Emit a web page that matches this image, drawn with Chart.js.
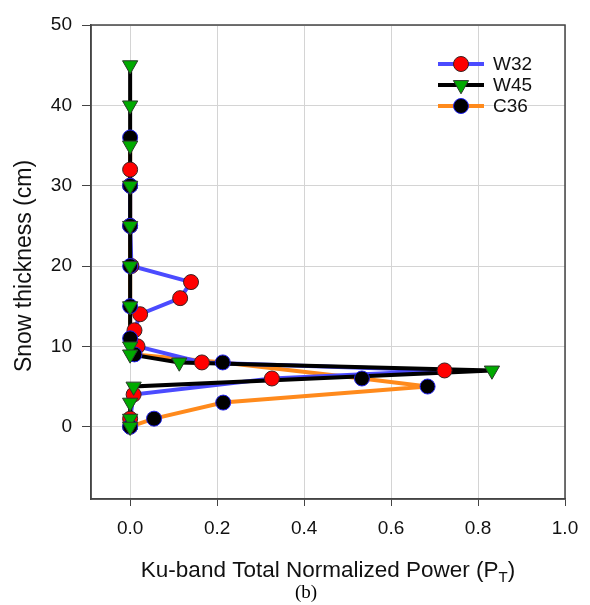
<!DOCTYPE html>
<html>
<head>
<meta charset="utf-8">
<script src="https://cdn.jsdelivr.net/npm/chart.js@4/dist/chart.umd.min.js"></script>
<style>
  html, body { margin: 0; padding: 0; background: #fff; }
  #wrap { width: 590px; height: 605px; }
</style>
</head>
<body>
<div id="wrap"><canvas id="snowChart" width="590" height="605"></canvas></div>
<script>
// values: depth (cm) and normalized power per site
const w32Depth = [32, 30, 25, 20, 18, 16, 14, 12, 10, 8, 7, 6, 4, 1, 0];
const w32Power = [0, 0, 0, 0.003, 0.14, 0.115, 0.023, 0.01, 0.017, 0.165, 0.723, 0.326, 0.008, 0, 0];

const w45Depth = [45, 40, 35, 30, 25, 20, 15, 10, 9, 8, 7, 5, 3, 1, 0];
const w45Power = [0, 0, 0, 0, 0, 0, 0, 0, 0, 0.113, 0.832, 0.008, 0, 0, 0];

const c36Depth = [36, 30, 25, 20, 15, 11, 9, 8, 6, 5, 3, 1, 0];
const c36Power = [0, 0, 0, 0, 0, 0, 0.01, 0.213, 0.533, 0.684, 0.214, 0.055, 0];

const xTicks = [0, 0.2, 0.4, 0.6, 0.8, 1.0];
const yTicks = [0, 10, 20, 30, 40, 50];

const seriesNames = ['W32', 'W45', 'C36'];

const FONT = "'Liberation Sans', Arial, sans-serif";

const toPoints = (xs, ys) => xs.map((x, i) => ({ x: x, y: ys[i] }));

const w32 = toPoints(w32Power, w32Depth);
const w45 = toPoints(w45Power, w45Depth);
const c36 = toPoints(c36Power, c36Depth);

// line styles and markers for each series (legend uses the same)
const styles = {
    W32: { line: '#4b4bff', fill: '#ff0000', edge: '#3a2020', shape: 'circle', r: 7.5 },
    W45: { line: '#000000', fill: '#00aa00', edge: '#2a3a2a', shape: 'triangle', r: 8.8 },
    C36: { line: '#ff8a1c', fill: '#000000', edge: '#2222ee', shape: 'circle', r: 7.5 }
};

const lineSet = (name, pts, order) => ({
    label: name,
    data: pts,
    showLine: true,
    borderColor: styles[name].line,
    borderWidth: 4,
    pointRadius: 0,
    pointHoverRadius: 0,
    order: order
});

const markSet = (name, pts, order) => ({
    label: name,
    data: pts,
    showLine: false,
    pointStyle: styles[name].shape,
    rotation: styles[name].shape === 'triangle' ? 180 : 0,
    pointRadius: styles[name].r,
    pointHoverRadius: styles[name].r,
    backgroundColor: styles[name].fill,
    borderColor: styles[name].edge,
    borderWidth: 1,
    order: order
});

function drawMarker(ctx, name, x, y) {
    const s = styles[name];
    ctx.beginPath();
    if (s.shape === 'circle') {
        ctx.arc(x, y, s.r, 0, Math.PI * 2);
    } else {
        const r = s.r;
        ctx.moveTo(x, y + r);
        ctx.lineTo(x - r * Math.sin(Math.PI / 3), y - r / 2);
        ctx.lineTo(x + r * Math.sin(Math.PI / 3), y - r / 2);
        ctx.closePath();
    }
    ctx.fillStyle = s.fill;
    ctx.fill();
    ctx.lineWidth = 1;
    ctx.strokeStyle = s.edge;
    ctx.stroke();
}

const framePlugin = {
    id: 'framePlugin',
    beforeDatasetsDraw(chart) {
        const { ctx, chartArea: a } = chart;
        ctx.save();
        ctx.strokeStyle = '#444';
        ctx.lineWidth = 1.5;
        ctx.strokeRect(a.left, a.top, a.width, a.height);
        ctx.restore();
    },
    afterDraw(chart) {
        const { ctx, chartArea: a } = chart;
        ctx.save();

        // legend inside the plot, upper right
        seriesNames.forEach((name, i) => {
            const y = 64 + i * 21;
            ctx.strokeStyle = styles[name].line;
            ctx.lineWidth = 4;
            ctx.beginPath();
            ctx.moveTo(438, y);
            ctx.lineTo(484, y);
            ctx.stroke();
            drawMarker(ctx, name, 461, y);
            ctx.fillStyle = '#111';
            ctx.font = '19px ' + FONT;
            ctx.textAlign = 'left';
            ctx.textBaseline = 'middle';
            ctx.fillText(name, 493, y + 1);
        });

        // y axis title
        ctx.save();
        ctx.translate(25, (a.top + a.bottom) / 2 + 4);
        ctx.rotate(-Math.PI / 2);
        ctx.font = '23px ' + FONT;
        ctx.textAlign = 'center';
        ctx.textBaseline = 'middle';
        ctx.fillStyle = '#111';
        ctx.fillText('Snow thickness (cm)', 0, 0);
        ctx.restore();

        // x axis title with subscript T
        const main = 'Ku-band Total Normalized Power (P';
        ctx.font = '22.5px ' + FONT;
        const w1 = ctx.measureText(main).width;
        ctx.font = '15px ' + FONT;
        const w2 = ctx.measureText('T').width;
        ctx.font = '22.5px ' + FONT;
        const w3 = ctx.measureText(')').width;
        let x0 = (a.left + a.right) / 2 - (w1 + w2 + w3) / 2;
        const ty = 571;
        ctx.textAlign = 'left';
        ctx.textBaseline = 'middle';
        ctx.fillStyle = '#111';
        ctx.fillText(main, x0, ty);
        ctx.font = '15px ' + FONT;
        ctx.fillText('T', x0 + w1, ty + 7);
        ctx.font = '22.5px ' + FONT;
        ctx.fillText(')', x0 + w1 + w2, ty);

        // panel caption
        ctx.font = "19px 'Liberation Serif', 'Times New Roman', serif";
        ctx.textAlign = 'center';
        ctx.fillStyle = '#000';
        ctx.fillText('(b)', 306, 593);

        ctx.restore();
    }
};

const ctx = document.getElementById('snowChart');
new Chart(ctx, {
    type: 'scatter',
    data: {
        datasets: [
            lineSet('C36', c36, 6),
            lineSet('W32', w32, 5),
            lineSet('W45', w45, 4),
            markSet('W32', w32, 3),
            markSet('C36', c36, 2),
            markSet('W45', w45, 1)
        ]
    },
    options: {
        responsive: false,
        animation: false,
        layout: { padding: { left: 0, right: 25, top: 25, bottom: 0 } },
        plugins: {
            legend: { display: false },
            tooltip: { enabled: false }
        },
        scales: {
            x: {
                type: 'linear',
                min: -0.09,
                max: 1.0,
                afterBuildTicks: scale => { scale.ticks = xTicks.map(v => ({ value: v })); },
                afterFit: scale => { scale.height = 106; },
                grid: { color: '#d4d4d4', lineWidth: 1, tickLength: 7, tickColor: '#444', drawTicks: true },
                border: { display: true, color: '#444', width: 1.5 },
                ticks: {
                    padding: 11,
                    color: '#111',
                    font: { family: FONT, size: 19 },
                    callback: v => Number(v).toFixed(1)
                },
                title: { display: false }
            },
            y: {
                type: 'linear',
                min: -9,
                max: 50,
                afterBuildTicks: scale => { scale.ticks = yTicks.map(v => ({ value: v })); },
                afterFit: scale => { scale.width = 91; },
                grid: { color: '#d4d4d4', lineWidth: 1, tickLength: 9, tickColor: '#444', drawTicks: true },
                border: { display: true, color: '#444', width: 1.5 },
                ticks: {
                    padding: 10,
                    color: '#111',
                    font: { family: FONT, size: 19 },
                    callback: v => String(v)
                },
                title: { display: false }
            }
        }
    },
    plugins: [framePlugin]
});
</script>
</body>
</html>
